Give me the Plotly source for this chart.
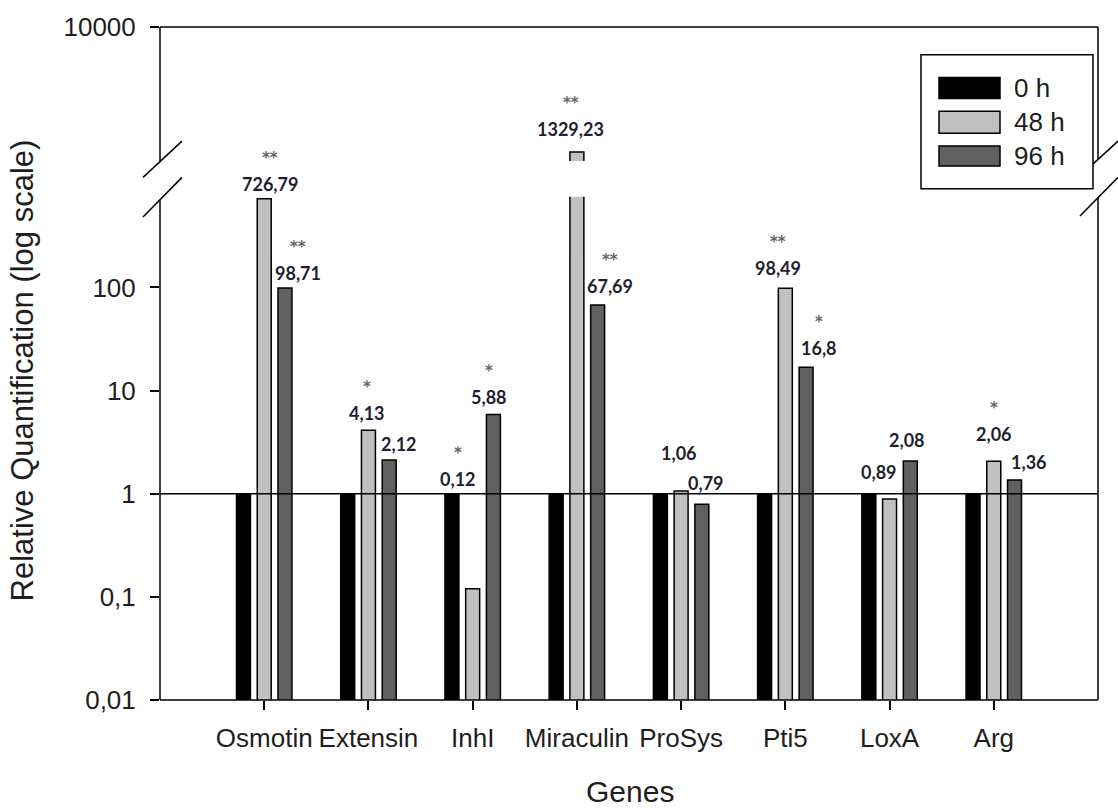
import math
import plotly.graph_objects as go

# ---- data -------------------------------------------------------------
genes = ["Osmotin", "Extensin", "InhI", "Miraculin", "ProSys", "Pti5", "LoxA", "Arg"]
h0 = [1, 1, 1, 1, 1, 1, 1, 1]
h48 = [726.79, 4.13, 0.12, 1329.23, 1.06, 98.49, 0.89, 2.06]
h96 = [98.71, 2.12, 5.88, 67.69, 0.79, 16.8, 2.08, 1.36]
sig48 = ["**", "*", "*", "**", "", "**", "", "*"]
sig96 = ["**", "", "*", "**", "", "*", "", ""]
series_names = ["0 h", "48 h", "96 h"]
ytick_vals = [0.01, 0.1, 1, 10, 100]
ytick_text = ["0,01", "0,1", "1", "10", "100"]
ytop_vals = [10000]
ytop_text = ["10000"]

# ---- styling ------------------------------------------------------------
colors = ["#000000", "#c0c0c0", "#606060"]
offsets = [-0.199, 0.0, 0.199]
bar_w = 0.134
# label nudges in pixels (x, y above bar top / baseline line)
lab48_dx = [6, -1, -15, -6, -2.5, -7.5, -11, 0]
lab48_dy = [15, 17, 15, 23, 38, 20, 22, 27]
lab96_dx = [13, 10, -4, 12.6, 4, 13, -3, 14]
lab96_dy = [15, 16, 17, 19, 10.6, 19, 21, 18]
star_gap = 30

FW, FH = 1118, 809
L, T, R, B = 160, 22, 20, 109
W, H = FW - L - R, FH - T - B
LOWER_TOP_PX = 193
UPPER_BOT_PX = 157
PX_PER_DEC = 103.9


def fx(X):
    return (X - L) / W


def fy(Y):
    return (T + H - Y) / H


lower_range = [-2, -2 + (T + H - LOWER_TOP_PX) / PX_PER_DEC]
upper_range = [3.061, 4]

axis_font = dict(family="Liberation Sans, Arial", size=26, color="#1e1e1e")
title_font = dict(family="Liberation Sans, Arial", size=30, color="#1e1e1e")
lab_font = dict(family="Lato", size=18, weight="bold", color="#1f1f30")
star_font = dict(family="DejaVu Sans", size=15, weight="bold", color="#666666")

fig = go.Figure()

series = [h0, h48, h96]
for s, vals in enumerate(series):
    xs = [i + offsets[s] for i in range(len(genes))]
    fig.add_trace(go.Bar(
        x=xs, y=vals, width=bar_w, name=series_names[s], yaxis="y",
        marker=dict(color=colors[s], line=dict(color="black", width=1.5)),
        showlegend=False, hoverinfo="skip"))
    upper_vals = [v if math.log10(v) > upper_range[0] else None for v in vals]
    if any(v is not None for v in upper_vals):
        fig.add_trace(go.Bar(
            x=xs, y=upper_vals, width=bar_w, name=series_names[s], yaxis="y2",
            marker=dict(color=colors[s], line=dict(color="black", width=1.5)),
            showlegend=False, hoverinfo="skip"))

# reference line at 1
fig.add_trace(go.Scatter(x=[-1, 8], y=[1, 1], mode="lines", yaxis="y",
                         line=dict(color="black", width=1.5),
                         showlegend=False, hoverinfo="skip"))

annotations = []


def fmt(v):
    return ("%g" % v).replace(".", ",")


for s, vals, dxs, dys, sigs in [(1, h48, lab48_dx, lab48_dy, sig48),
                                (2, h96, lab96_dx, lab96_dy, sig96)]:
    for i, v in enumerate(vals):
        anchor = max(v, 1)
        yref = "y2" if math.log10(anchor) > lower_range[1] else "y"
        x = i + offsets[s]
        annotations.append(dict(
            x=x, y=math.log10(anchor), xref="x", yref=yref, text=fmt(v),
            showarrow=False, xshift=dxs[i], yshift=dys[i], yanchor="middle",
            xanchor="center", font=lab_font))
        if sigs[i]:
            annotations.append(dict(
                x=x, y=math.log10(anchor), xref="x", yref=yref, text=sigs[i],
                showarrow=False, xshift=dxs[i], yshift=dys[i] + star_gap - 4,
                yanchor="middle", xanchor="center", font=star_font))

# axis titles
annotations.append(dict(x=fx(22), y=fy(368), xref="paper", yref="paper",
                        text="Relative Quantification (log scale)", textangle=-90,
                        showarrow=False, xanchor="center", yanchor="middle",
                        font=dict(title_font, size=31)))
annotations.append(dict(x=fx(630), y=fy(792), xref="paper", yref="paper",
                        text="Genes", showarrow=False, xanchor="center", yanchor="middle",
                        font=title_font))

# frame with axis breaks
line = dict(color="black", width=1.5)
shapes = []


def seg(x0, y0, x1, y1):
    shapes.append(dict(type="line", xref="paper", yref="paper",
                       x0=fx(x0), y0=fy(y0), x1=fx(x1), y1=fy(y1), line=line))


seg(L, T, L + W, T)
seg(L, T + H, L + W, T + H)
seg(L, T, L, 157)
seg(L, 196, L, T + H)
seg(L + W, T, L + W, 155)
seg(L + W, 194, L + W, T + H)
seg(143, 173.5, 182, 137)
seg(143, 213.5, 182, 173.5)
seg(1080, 172, 1118, 137)
seg(1080, 212.5, 1118, 173.5)

# legend
shapes.append(dict(type="rect", xref="paper", yref="paper",
                   x0=fx(921), y0=fy(185), x1=fx(1093), y1=fy(50),
                   fillcolor="white", line=line))
swatch_rows = [(73, 94), (107, 129), (142, 162)]
for s, (y0, y1) in enumerate(swatch_rows):
    shapes.append(dict(type="rect", xref="paper", yref="paper",
                       x0=fx(939), y0=fy(y1), x1=fx(1000), y1=fy(y0),
                       fillcolor=colors[s], line=line))
    annotations.append(dict(x=fx(1012), y=fy((y0 + y1) / 2), xref="paper", yref="paper",
                            text=series_names[s], showarrow=False, xanchor="left",
                            yanchor="middle", font=axis_font))

fig.update_layout(
    width=FW, height=FH, autosize=False,
    margin=dict(l=L, r=R, t=T, b=B, pad=0),
    paper_bgcolor="white", plot_bgcolor="white",
    barmode="overlay",
    xaxis=dict(range=[-1, 8], tickvals=list(range(len(genes))), ticktext=genes,
               ticks="outside", ticklen=9, tickwidth=1.5, tickcolor="black",
               showline=False, showgrid=False, zeroline=False, anchor="y",
               tickfont=axis_font, ticklabelstandoff=6),
    yaxis=dict(type="log", range=lower_range, domain=[0, fy(LOWER_TOP_PX)],
               tickvals=ytick_vals, ticktext=ytick_text,
               ticks="outside", ticklen=9, tickwidth=1.5, tickcolor="black",
               showline=False, showgrid=False, zeroline=False,
               tickfont=axis_font, ticklabelstandoff=9),
    yaxis2=dict(type="log", range=upper_range, domain=[fy(UPPER_BOT_PX), 1],
                tickvals=ytop_vals, ticktext=ytop_text, anchor="x",
                ticks="outside", ticklen=9, tickwidth=1.5, tickcolor="black",
                showline=False, showgrid=False, zeroline=False,
                tickfont=axis_font, ticklabelstandoff=9),
    shapes=shapes,
    annotations=annotations,
)

fig.write_html("out.html")
